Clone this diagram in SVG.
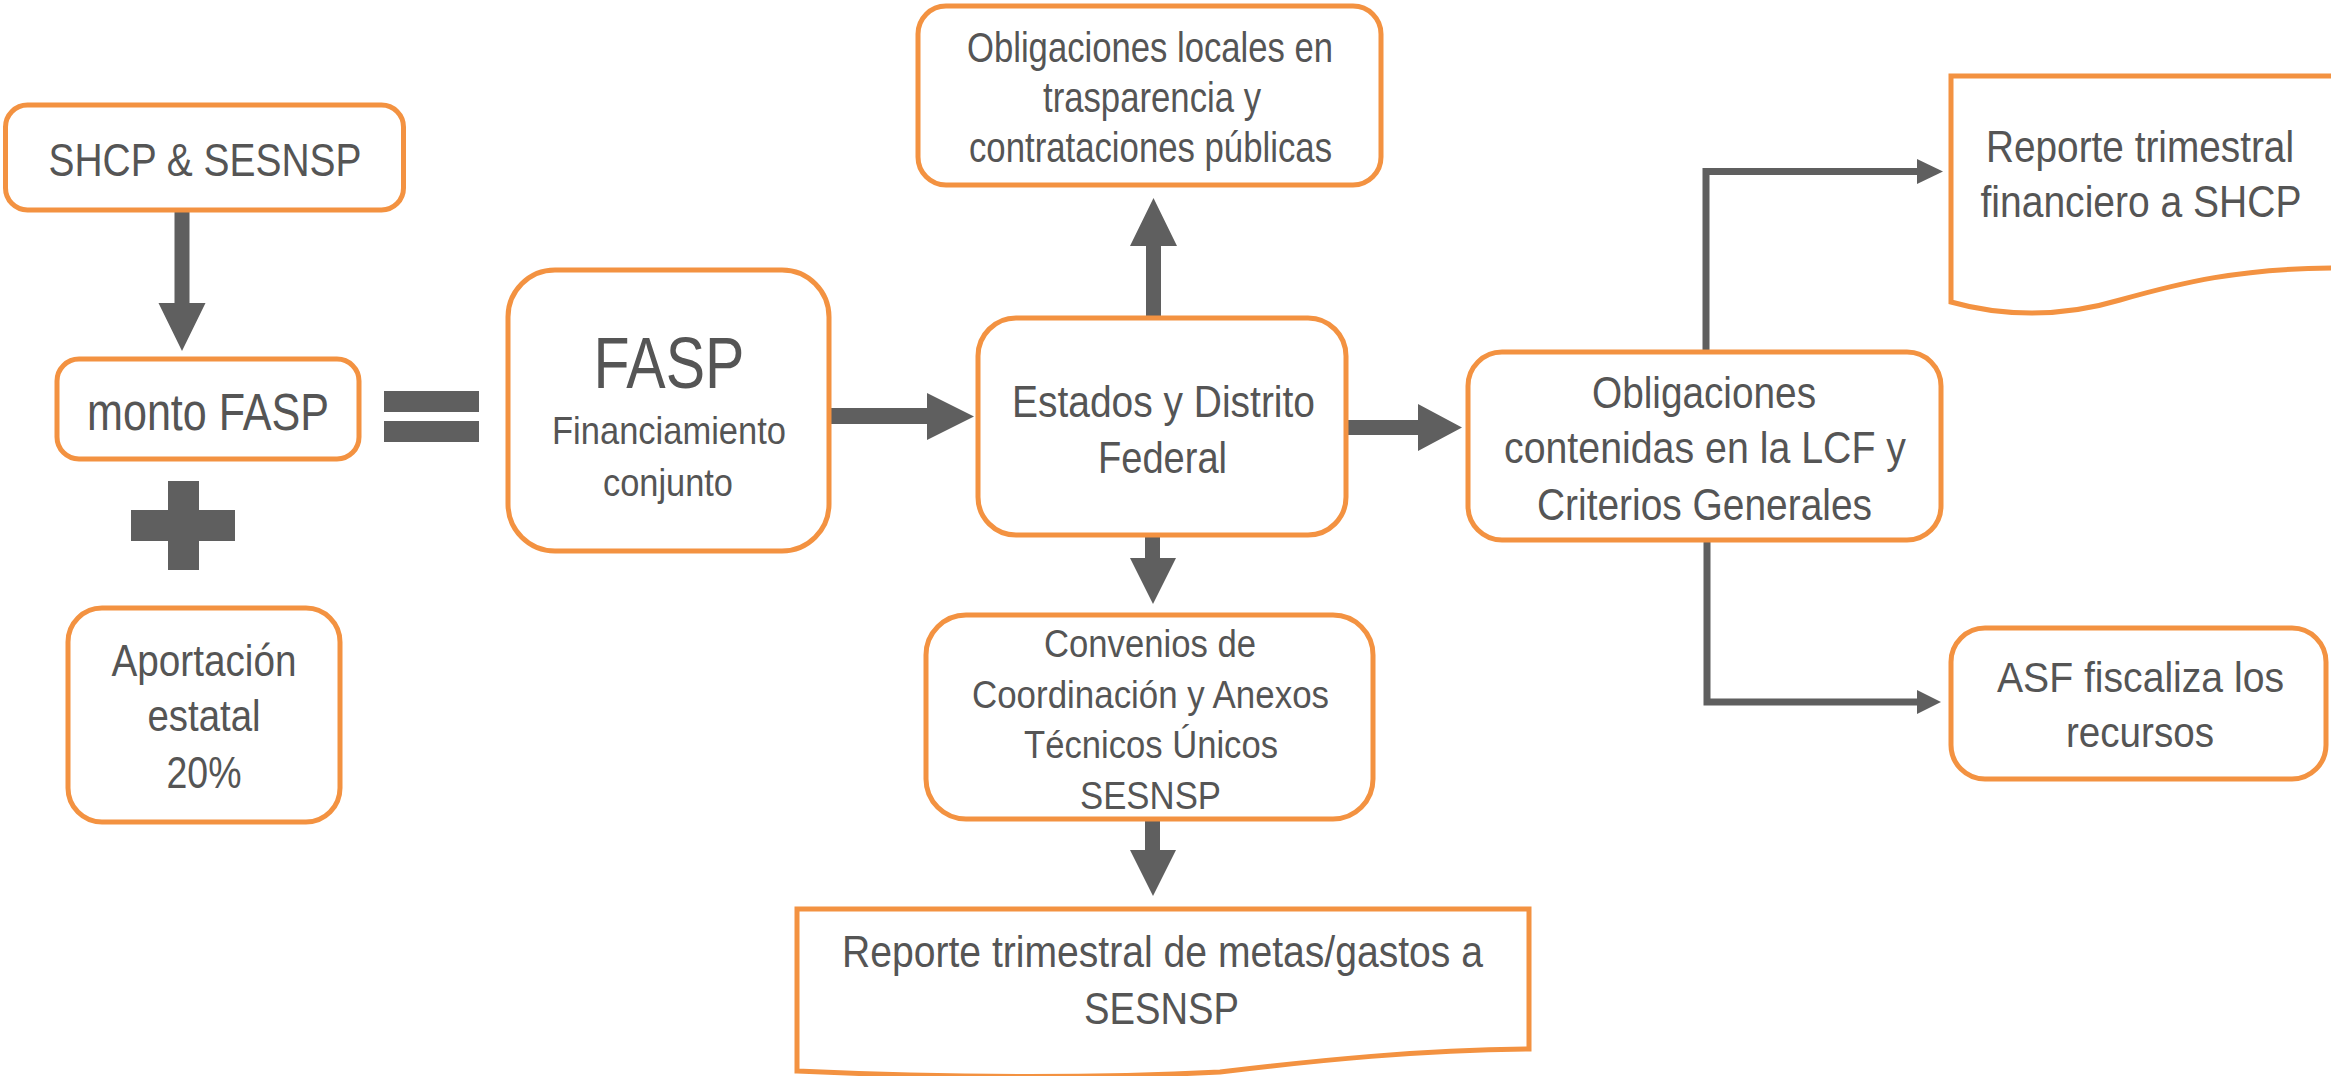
<svg xmlns="http://www.w3.org/2000/svg" width="2331" height="1076" viewBox="0 0 2331 1076">
<style>
.box{fill:#ffffff;stroke:#F39241;stroke-width:5}
.t{font-family:"Liberation Sans",Arial,sans-serif;fill:#555555;text-anchor:middle}
.arr{fill:#5F5F5F}
.line{fill:none;stroke:#5F5F5F;stroke-width:7}
</style>
<rect width="2331" height="1076" fill="#ffffff"/>

<g id="connectors">
  <polygon class="arr" points="174.5,210 189.5,210 189.5,303 205.5,303 182,351 158.5,303 174.5,303"/>
  <polygon class="arr" points="831,408 927,408 927,393 974,416.5 927,440 927,424 831,424"/>
  <polygon class="arr" points="1146,316 1146,246 1130,246 1153.5,198 1177,246 1161,246 1161,316"/>
  <polygon class="arr" points="1145,537 1160,537 1160,558 1176,558 1153,604 1130,558 1145,558"/>
  <polygon class="arr" points="1145,821 1160,821 1160,850 1176,850 1153,896 1130,850 1145,850"/>
  <polygon class="arr" points="1348,420 1418,420 1418,404 1462,427.5 1418,451 1418,435 1348,435"/>
  <path class="line" d="M1706,350 V171.5 H1919"/>
  <polygon class="arr" points="1917,159 1943,171.5 1917,184"/>
  <path class="line" d="M1707,542 V702 H1919"/>
  <polygon class="arr" points="1917,690 1941,702 1917,714"/>
</g>

<g id="operators">
  <rect class="arr" x="384" y="391" width="95" height="21"/>
  <rect class="arr" x="384" y="421" width="95" height="21"/>
  <rect class="arr" x="131" y="510" width="104" height="31"/>
  <rect class="arr" x="168" y="481" width="31" height="89"/>
</g>

<g id="shcp">
  <rect class="box" x="5.5" y="105" width="398" height="105" rx="22"/>
  <text class="t" x="205" y="176" font-size="47" textLength="313" lengthAdjust="spacingAndGlyphs">SHCP &amp; SESNSP</text>
</g>

<g id="monto">
  <rect class="box" x="57" y="359" width="302" height="100" rx="22"/>
  <text class="t" x="208" y="430" font-size="51" textLength="242" lengthAdjust="spacingAndGlyphs">monto FASP</text>
</g>

<g id="aportacion">
  <rect class="box" x="68" y="608" width="272" height="214" rx="34"/>
  <text class="t" x="204" y="676" font-size="44" textLength="185" lengthAdjust="spacingAndGlyphs">Aportación</text>
  <text class="t" x="204" y="731" font-size="44" textLength="113" lengthAdjust="spacingAndGlyphs">estatal</text>
  <text class="t" x="204" y="788" font-size="44" textLength="75" lengthAdjust="spacingAndGlyphs">20%</text>
</g>

<g id="fasp">
  <rect class="box" x="508" y="270" width="321" height="281" rx="47"/>
  <text class="t" x="669" y="388" font-size="73" textLength="151" lengthAdjust="spacingAndGlyphs">FASP</text>
  <text class="t" x="669" y="444" font-size="39" textLength="234" lengthAdjust="spacingAndGlyphs">Financiamiento</text>
  <text class="t" x="668" y="496" font-size="39" textLength="130" lengthAdjust="spacingAndGlyphs">conjunto</text>
</g>

<g id="obligaciones-locales">
  <rect class="box" x="918" y="6" width="463" height="179" rx="28"/>
  <text class="t" x="1150" y="62" font-size="42" textLength="366" lengthAdjust="spacingAndGlyphs">Obligaciones locales en</text>
  <text class="t" x="1152" y="112" font-size="42" textLength="218" lengthAdjust="spacingAndGlyphs">trasparencia y</text>
  <text class="t" x="1150.5" y="162" font-size="42" textLength="363" lengthAdjust="spacingAndGlyphs">contrataciones públicas</text>
</g>

<g id="estados">
  <rect class="box" x="978" y="318" width="368" height="217" rx="38"/>
  <text class="t" x="1163.5" y="417" font-size="45" textLength="303" lengthAdjust="spacingAndGlyphs">Estados y Distrito</text>
  <text class="t" x="1162.5" y="473" font-size="45" textLength="129" lengthAdjust="spacingAndGlyphs">Federal</text>
</g>

<g id="convenios">
  <rect class="box" x="926" y="615" width="447" height="204" rx="40"/>
  <text class="t" x="1150" y="657" font-size="39" textLength="212" lengthAdjust="spacingAndGlyphs">Convenios de</text>
  <text class="t" x="1150.5" y="708" font-size="39" textLength="357" lengthAdjust="spacingAndGlyphs">Coordinación y Anexos</text>
  <text class="t" x="1151" y="758" font-size="39" textLength="254" lengthAdjust="spacingAndGlyphs">Técnicos Únicos</text>
  <text class="t" x="1150.5" y="809" font-size="39" textLength="141" lengthAdjust="spacingAndGlyphs">SESNSP</text>
</g>

<g id="reporte-metas">
  <path class="box" d="M797,909 H1529 V1049 C1420,1050 1320,1060 1220,1072 C1100,1078 950,1078 797,1071 Z"/>
  <text class="t" x="1162.5" y="967" font-size="44" textLength="641" lengthAdjust="spacingAndGlyphs">Reporte trimestral de metas/gastos a</text>
  <text class="t" x="1161.5" y="1024" font-size="44" textLength="155" lengthAdjust="spacingAndGlyphs">SESNSP</text>
</g>

<g id="obligaciones-lcf">
  <rect class="box" x="1468" y="352" width="473" height="188" rx="34"/>
  <text class="t" x="1704" y="408" font-size="45" textLength="224" lengthAdjust="spacingAndGlyphs">Obligaciones</text>
  <text class="t" x="1705" y="463" font-size="45" textLength="402" lengthAdjust="spacingAndGlyphs">contenidas en la LCF y</text>
  <text class="t" x="1704.5" y="520" font-size="45" textLength="335" lengthAdjust="spacingAndGlyphs">Criterios Generales</text>
</g>

<g id="reporte-shcp">
  <path class="box" d="M1951,76 H2336 V268 C2240,268 2180,283 2120,300 C2060,318 2000,316 1951,302 Z"/>
  <text class="t" x="2140" y="162" font-size="45" textLength="308" lengthAdjust="spacingAndGlyphs">Reporte trimestral</text>
  <text class="t" x="2141" y="217" font-size="45" textLength="321" lengthAdjust="spacingAndGlyphs">financiero a SHCP</text>
</g>

<g id="asf">
  <rect class="box" x="1951" y="628" width="375" height="151" rx="34"/>
  <text class="t" x="2140.5" y="692" font-size="42" textLength="287" lengthAdjust="spacingAndGlyphs">ASF fiscaliza los</text>
  <text class="t" x="2140" y="747" font-size="42" textLength="148" lengthAdjust="spacingAndGlyphs">recursos</text>
</g>
</svg>
